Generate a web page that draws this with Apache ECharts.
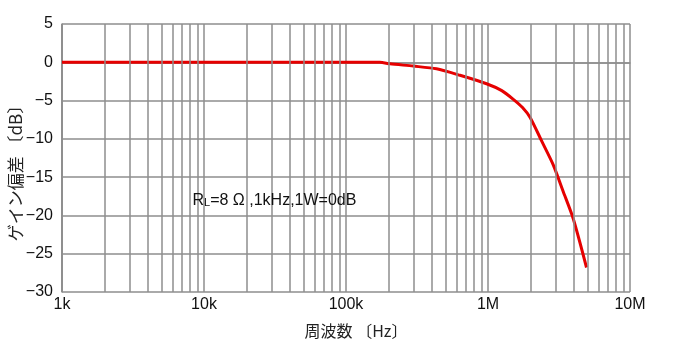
<!DOCTYPE html>
<html><head><meta charset="utf-8">
<script src="https://cdn.jsdelivr.net/npm/echarts@6/dist/echarts.min.js"></script>
<style>html,body{margin:0;padding:0;background:#fff}#c{width:674px;height:340px}</style>
</head><body><div id="c"></div>
<script>
const freqHz = [1000, 10000, 100000, 125000, 173000, 204000, 298000, 434000, 635000, 977000, 1250000, 1500000, 1750000, 1980000, 2390000, 2880000, 3390000, 3980000, 4940000];
const gainDb = [0, 0, 0, 0, 0, -0.2, -0.5, -0.85, -1.7, -2.8, -3.7, -4.8, -5.9, -7.2, -10.3, -13.4, -16.9, -20.4, -26.8];
const xTickLabels = {1000:'1k', 10000:'10k', 100000:'100k', 1000000:'1M', 10000000:'10M'};
const minorFreqs = [];
[1000,10000,100000,1000000].forEach(d => { for (let m = 2; m <= 9; m++) minorFreqs.push(d*m); });
const yTicks = [5, 0, -5, -10, -15, -20, -25, -30];
const yAxisTitle = 'ゲイン偏差 〔dB〕';
const xAxisTitle = '周波数 〔Hz〕';
const note = {freq: 8300, db: -18.0};

const font = '"Liberation Sans", Arial, "Noto Sans CJK JP", sans-serif';
const jpFont = '"Noto Sans CJK JP", sans-serif';
const gridColor = '#8e8e8e';
const chart = echarts.init(document.getElementById('c'));
chart.setOption({
  animation: false,
  backgroundColor: '#fff',
  grid: {left: 62, right: 44, top: 24, bottom: 48, show: false, outerBoundsMode: 'none', containLabel: false},
  graphic: [{
    type: 'text', x: 16, y: 169, rotation: Math.PI / 2,
    style: {text: yAxisTitle, align: 'center', verticalAlign: 'middle',
      font: '17px "Noto Sans CJK JP", sans-serif', fill: '#222'}
  }],
  xAxis: {
    type: 'log', logBase: 10, min: 1000, max: 10000000,
    name: xAxisTitle, nameLocation: 'middle', nameGap: 31,
    nameTextStyle: {fontSize: 16, color: '#222', fontFamily: jpFont, padding: [0, 0, 0, 20]},
    axisLine: {show: true, lineStyle: {color: gridColor, width: 1.5}},
    axisTick: {show: false},
    axisLabel: {fontSize: 16, color: '#111', fontFamily: font, margin: 5,
      formatter: v => xTickLabels[Math.round(v)] || ''},
    splitLine: {show: true, lineStyle: {color: gridColor, width: 1.5}}
  },
  yAxis: {
    type: 'value', min: -30, max: 5, interval: 5,
    axisLine: {show: true, lineStyle: {color: gridColor, width: 1.5}},
    axisTick: {show: false},
    axisLabel: {fontSize: 16, color: '#111', fontFamily: font, margin: 9,
      formatter: v => yTicks.includes(v) ? String(v).replace('-', '−') : ''},
    splitLine: {show: true, lineStyle: {color: gridColor, width: 1.5}}
  },
  series: [
    {
      type: 'line', data: [], silent: true,
      markLine: {
        silent: true, symbol: 'none', label: {show: false},
        lineStyle: {color: gridColor, width: 1.5, type: 'solid'},
        data: minorFreqs.map(f => ({xAxis: f}))
      }
    },
    {
      type: 'line', data: freqHz.map((f, i) => [f, gainDb[i]]),
      showSymbol: false, smooth: 0.25,
      lineStyle: {color: '#e60000', width: 3},
      itemStyle: {color: '#e60000'},
      markPoint: {
        symbol: 'circle', symbolSize: 0,
        data: [{coord: [note.freq, note.db]}],
        label: {
          show: true, position: 'right', distance: 0,
          formatter: 'R{s|L}=8 Ω ,1kHz,1W=0dB',
          fontSize: 16, color: '#111', fontFamily: font,
          rich: {s: {fontSize: 11, color: '#111', fontFamily: font, padding: [5, 0, 0, 0]}}
        }
      }
    }
  ]
});
</script></body></html>
